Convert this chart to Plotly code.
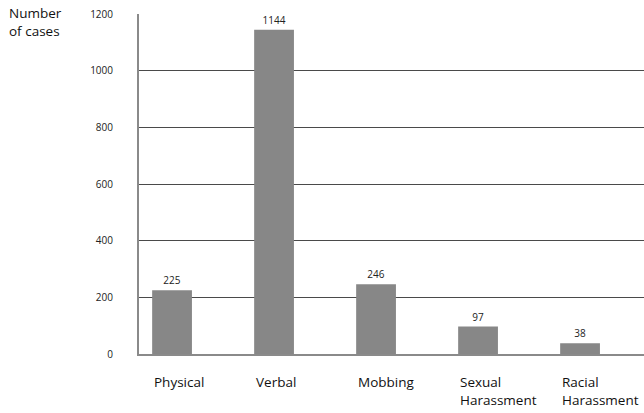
import plotly.graph_objects as go

categories = ["Physical", "Verbal", "Mobbing", "Sexual<br>Harassment", "Racial<br>Harassment"]
cases = [225, 1144, 246, 97, 38]
y_ticks = [0, 200, 400, 600, 800, 1000, 1200]

FONT = "'Open Sans', sans-serif"
BAR_W = 0.39

fig = go.Figure()
fig.add_trace(go.Bar(
    x=list(range(len(categories))),
    y=cases,
    width=BAR_W,
    marker=dict(color="#878787", line=dict(width=0)),
    text=[str(v) for v in cases],
    textposition="outside",
    textfont=dict(family=FONT, size=10, color="#222"),
    cliponaxis=False,
))

# Category names, left-aligned under each bar's left edge
annotations = [
    dict(text=name, x=i - BAR_W / 2, y=0, xref="x", yref="y",
         xanchor="left", yanchor="top", align="left", yshift=-17,
         showarrow=False, font=dict(family=FONT, size=13.5, color="#111"))
    for i, name in enumerate(categories)
]
annotations.append(dict(
    text="Number<br>of cases",
    xref="paper", yref="paper",
    x=-132 / 505, y=1 + 12 / 340,
    xanchor="left", yanchor="top", align="left",
    showarrow=False,
    font=dict(family=FONT, size=13.5, color="#111"),
))

fig.update_layout(
    width=644, height=413,
    margin=dict(l=139, r=0, t=14, b=59),
    paper_bgcolor="white", plot_bgcolor="white",
    showlegend=False,
    xaxis=dict(
        range=[-0.324, 4.627],
        showticklabels=False,
        showgrid=False, ticks="",
        showline=True, linecolor="#8a8a8a", linewidth=2,
        zeroline=False,
    ),
    yaxis=dict(
        range=[0, 1200],
        tickmode="array",
        tickvals=y_ticks,
        tickfont=dict(family=FONT, size=10, color="#222"),
        showgrid=True, gridcolor="#4a4a4a", gridwidth=1,
        showline=True, linecolor="#8a8a8a", linewidth=2,
        ticks="", ticklabelstandoff=22,
        zeroline=False,
    ),
    annotations=annotations,
)

fig.write_html("out.html")
